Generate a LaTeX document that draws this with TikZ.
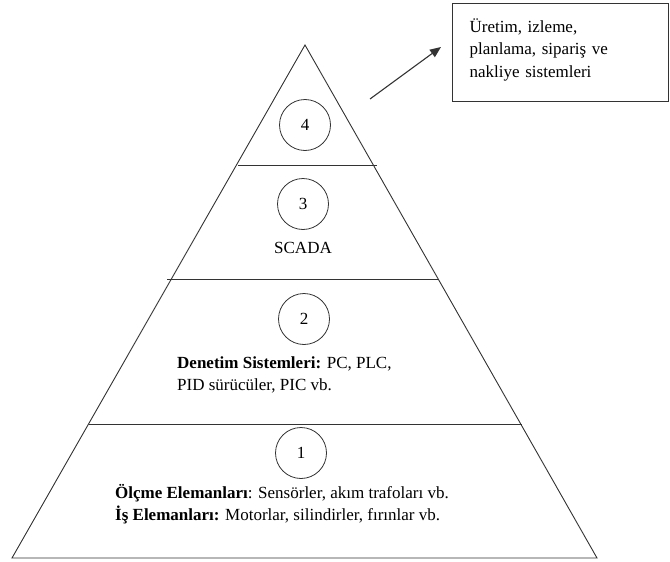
\documentclass[tikz,border=0pt]{standalone}
\usepackage{fontspec}
\setmainfont{Liberation Serif}
\usetikzlibrary{arrows.meta, positioning}

\begin{document}
\begin{tikzpicture}[
  x=1pt, y=-1pt,
  >={Triangle[length=11pt, width=9pt]},
  font=\fontsize{17}{21.5}\selectfont,
  edge/.style={draw=black!80, line width=0.9pt},
  level/.style={draw=black!80, line width=0.8pt, circle, minimum size=51pt, inner sep=0pt},
  info/.style={align=left, anchor=west, inner sep=0pt},
  note/.style={draw=black!80, line width=1.3pt, rectangle, minimum width=216pt, minimum height=98pt, text width=182pt, text depth=55pt, inner xsep=17pt, align=left, font=\fontsize{17}{22.5}\selectfont}
]
  \useasboundingbox (0,0) rectangle (670,562);

  % Piramit
  \coordinate (apex) at (305,45);
  \coordinate (bl) at (12,558);
  \coordinate (br) at (597,558);
  \draw[edge] (bl) -- (apex) -- (br) -- cycle;

  % Katman cizgileri
  \draw[edge] (238,165) -- (377,165);
  \draw[edge] (167,279) -- (438,279);
  \draw[edge] (89,424) -- (522,424);

  % Seviyeler
  \node[level] (lvl4) at (305,125) {4};
  \node[level] (lvl3) at (303,204) {3};
  \node[level] (lvl2) at (304,319) {2};
  \node[level] (lvl1) at (301,453) {1};

  % Aciklamalar
  \node[below=12pt of lvl3, inner sep=0pt] (scada) {SCADA};
  \node[info] (control) at (177,375) {\textbf{Denetim Sistemleri:} PC, PLC,\\PID sürücüler, PIC vb.};
  \node[info] (field) at (115,504) {\textbf{Ölçme Elemanları}: Sensörler, akım trafoları vb.\\\textbf{İş Elemanları:} Motorlar, silindirler, fırınlar vb.};

  % Ust seviye sistemler
  \node[note, anchor=north west] (mes) at (452,3) {Üretim, izleme,\\planlama, sipariş ve\\nakliye sistemleri};
  \coordinate (from) at (370,99);
  \coordinate (to) at (441,47);
  \draw[->, edge, line width=1.1pt] (from) -- (to);

\end{tikzpicture}
\end{document}
